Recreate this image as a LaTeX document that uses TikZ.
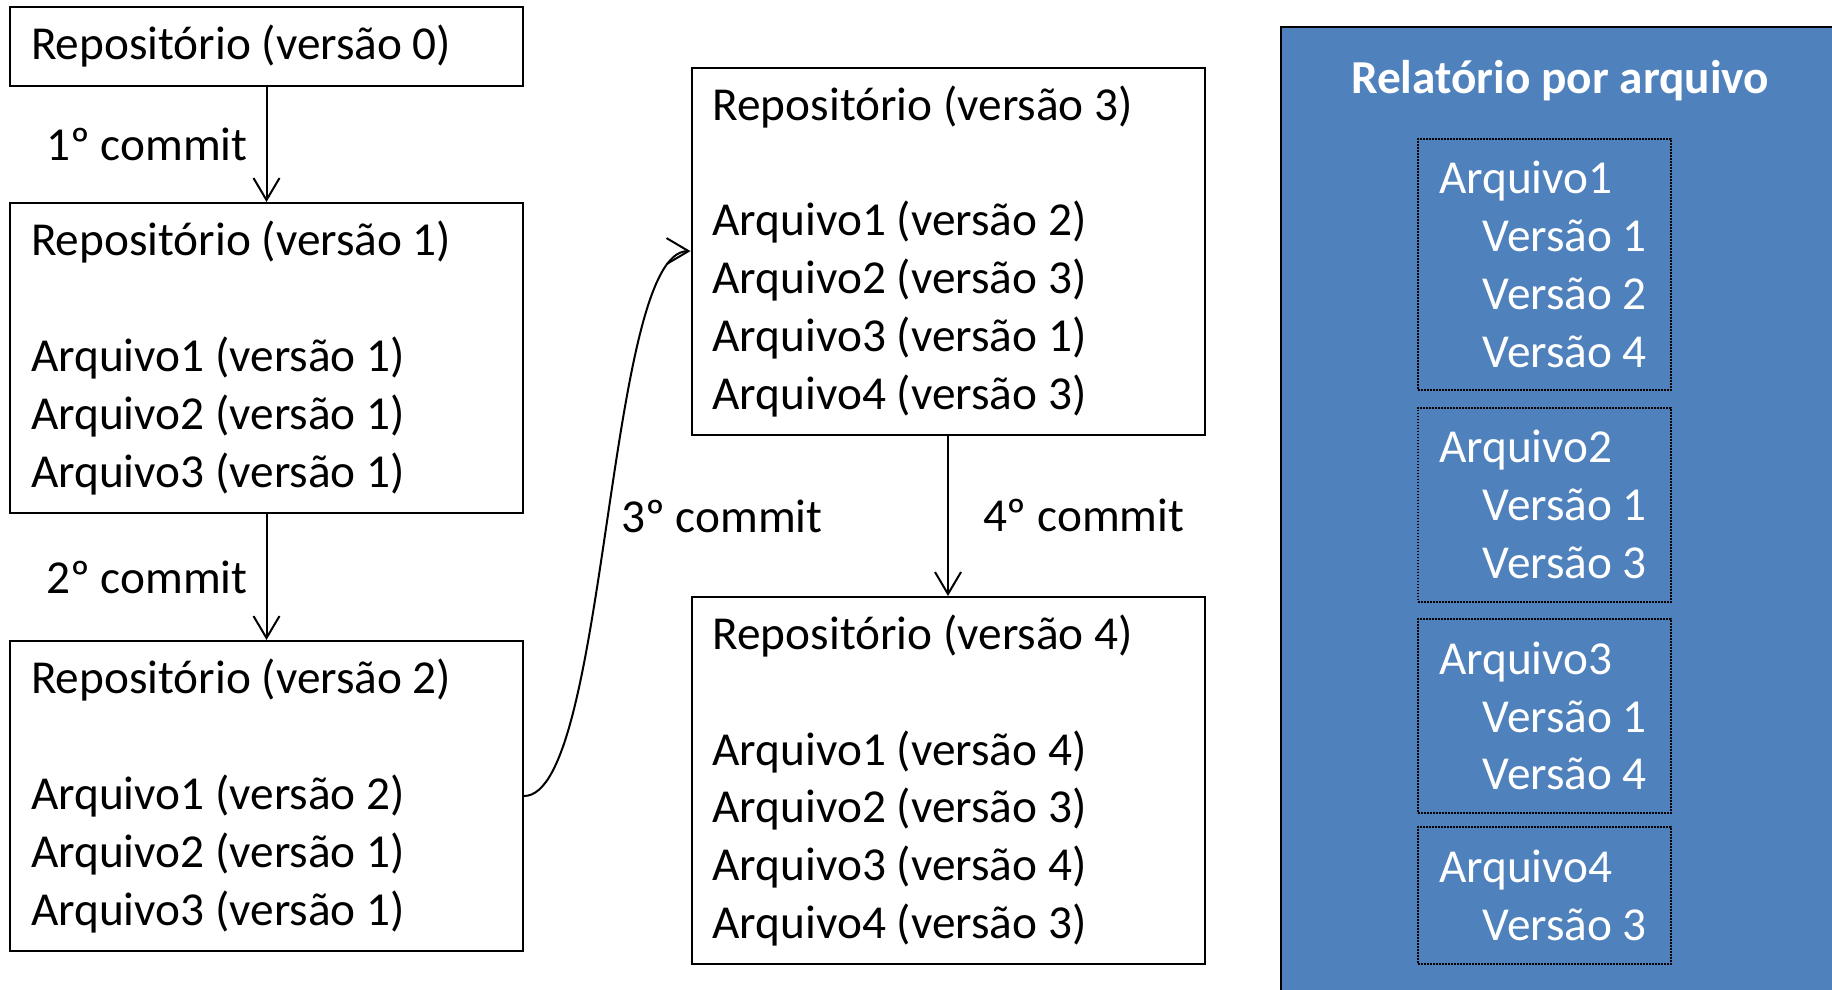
\documentclass[tikz,border=0pt]{standalone}
\usepackage{fontspec}
\setmainfont{Carlito}
\usetikzlibrary{arrows.meta}
\definecolor{panelblue}{HTML}{4F81BD}
\newcommand\dgfont{\fontsize{47.3pt}{57.8pt}\selectfont}
\newcommand\vrow[1]{\mbox{\hspace*{43.5pt}#1}}
\begin{document}
\begin{tikzpicture}[x=1pt,y=-1pt,
  repo/.style={draw, line width=2pt, anchor=north west, minimum width=513pt,
    text width=471pt, inner xsep=21pt, inner ysep=0pt, align=flush left, font=\dgfont},
  filebox/.style={draw=black, line width=2pt, dash pattern=on 1.6pt off 1.4pt,
    anchor=north west, minimum width=253pt, text width=211pt, inner xsep=21pt,
    inner ysep=0pt, align=flush left, font=\dgfont, text=white},
  arr/.style={draw, line width=2pt, -{Straight Barb[length=22pt,width=26pt,line width=2pt]}},
  lab/.style={inner sep=0pt, font=\dgfont}
]
\useasboundingbox (0,0) rectangle (1832,989);
\clip (0,0) rectangle (1832,989);

% panel
\node[draw=black, line width=2pt, fill=panelblue, anchor=north west,
      minimum width=570pt, minimum height=1000pt, inner sep=0pt] (panel) at (1280,26) {};
\node[font=\dgfont\bfseries, text=white, inner sep=0pt] (title) at (1560,80.6) {Relatório por arquivo};

\node[filebox, minimum height=251pt] (f1) at (1417,138)
  {Arquivo1\\\vrow{Versão 1}\\\vrow{Versão 2}\\\vrow{Versão 4}};
\node[filebox, minimum height=194pt] (f2) at (1417,406.6)
  {Arquivo2\\\vrow{Versão 1}\\\vrow{Versão 3}};
\node[filebox, minimum height=194pt] (f3) at (1417,618)
  {Arquivo3\\\vrow{Versão 1}\\\vrow{Versão 4}};
\node[filebox, minimum height=137pt] (f4) at (1417,826)
  {Arquivo4\\\vrow{Versão 3}};

% repository boxes
\node[repo, minimum height=79pt] (b0) at (9,6) {Repositório (versão 0)};
\node[repo, minimum height=310pt] (b1) at (9,202)
  {Repositório (versão 1)\\[57.8pt]Arquivo1 (versão 1)\\Arquivo2 (versão 1)\\Arquivo3 (versão 1)};
\node[repo, minimum height=310pt] (b2) at (9,640)
  {Repositório (versão 2)\\[57.8pt]Arquivo1 (versão 2)\\Arquivo2 (versão 1)\\Arquivo3 (versão 1)};
\node[repo, minimum height=367pt] (b3) at (690.5,66.6)
  {Repositório (versão 3)\\[57.8pt]Arquivo1 (versão 2)\\Arquivo2 (versão 3)\\Arquivo3 (versão 1)\\Arquivo4 (versão 3)};
\node[repo, minimum height=367pt] (b4) at (690.5,596)
  {Repositório (versão 4)\\[57.8pt]Arquivo1 (versão 4)\\Arquivo2 (versão 3)\\Arquivo3 (versão 4)\\Arquivo4 (versão 3)};

% connectors
\draw[arr] (b0.south) -- (b1.north) node[lab, midway, left=18pt] (l1) {1º commit};
\draw[arr] (b1.south) -- (b2.north) node[lab, midway, left=18pt] (l2) {2º commit};
\draw[arr] (b3.south) -- (b4.north) node[lab, midway, right=34pt] (l4) {4º commit};
\draw[arr] (b2.east) .. controls +(84,0) and +(-84.5,0) .. (b3.west)
  node[lab, pos=0.5, anchor=west, xshift=13pt, yshift=7.5pt] (l3) {3º commit};
\end{tikzpicture}
\end{document}
